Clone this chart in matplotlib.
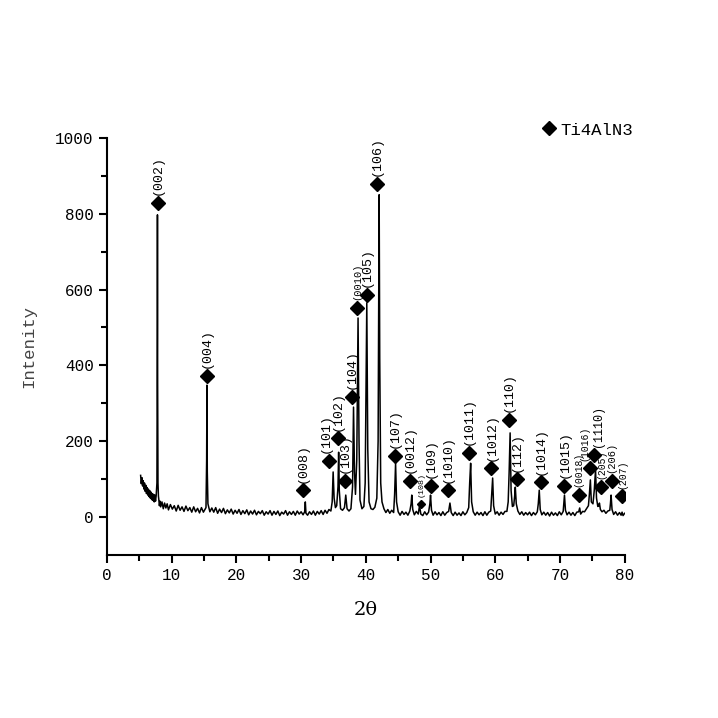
import numpy as np
import matplotlib
matplotlib.use('Agg')
import matplotlib.pyplot as plt

# XRD scan (2theta, counts)
two_theta = [
    5.2, 5.3, 5.4, 5.5, 5.6, 5.7, 5.8, 5.9, 6.0, 6.1, 6.2, 6.3, 6.4, 6.5, 6.6, 6.7, 6.8, 6.9,
    7.0, 7.1, 7.2, 7.3, 7.4, 7.5, 7.6, 7.72, 7.78, 7.8, 7.83, 7.88, 7.95,
    8.0, 8.1, 8.2, 8.3, 8.5, 8.7, 8.9, 9.1, 9.3, 9.5, 9.8, 10.1, 10.4, 10.7, 11.0, 11.3, 11.6,
    11.9, 12.2, 12.5, 12.8, 13.1, 13.4, 13.7, 14.0, 14.3, 14.6, 14.9, 15.2,
    15.3, 15.4, 15.45, 15.5, 15.6,
    15.7, 15.9, 16.2, 16.5, 16.8, 17.1, 17.4, 17.7, 18.0, 18.3, 18.6, 18.9, 19.2, 19.5, 19.8,
    20.1, 20.4, 20.7, 21.0, 21.3, 21.6, 21.9, 22.2, 22.5, 22.8, 23.1, 23.4, 23.7, 24.0, 24.3,
    24.6, 24.9, 25.2, 25.5, 25.8, 26.1, 26.4, 26.7, 27.0, 27.3, 27.6, 27.9, 28.2, 28.5, 28.8,
    29.1, 29.4, 29.7, 30.0, 30.3, 30.55, 30.65, 30.75, 31.0, 31.3, 31.6, 31.9, 32.2, 32.5,
    32.8, 33.1, 33.4, 33.7, 34.0, 34.3, 34.6, 34.8, 34.95, 35.1, 35.3, 35.5, 35.7, 35.8, 35.9,
    36.1, 36.4, 36.7, 36.9, 37.1, 37.4, 37.7, 37.95, 38.1, 38.25, 38.4, 38.6, 38.8, 38.95,
    39.1, 39.4, 39.7, 39.9, 40.05, 40.15, 40.3, 40.5, 40.8, 41.1, 41.4, 41.7, 41.9, 42.0,
    42.06, 42.15, 42.3, 42.5, 42.8, 43.1, 43.4, 43.7, 44.0, 44.3, 44.45, 44.6, 44.75, 45.0,
    45.3, 45.6, 45.9, 46.2, 46.5, 46.8, 47.0, 47.1, 47.25, 47.5, 47.8, 48.1, 48.3, 48.5, 48.8,
    49.1, 49.4, 49.7, 49.9, 50.0, 50.15, 50.4, 50.7, 51.0, 51.3, 51.6, 51.9, 52.2, 52.5, 52.8,
    53.0, 53.2, 53.5, 53.8, 54.1, 54.4, 54.7, 55.0, 55.3, 55.6, 55.9, 56.05, 56.2, 56.35, 56.6,
    56.9, 57.2, 57.5, 57.8, 58.1, 58.4, 58.7, 59.0, 59.3, 59.45, 59.6, 59.75, 60.0, 60.3, 60.6,
    60.9, 61.2, 61.5, 61.8, 62.0, 62.15, 62.3, 62.45, 62.65, 62.85, 63.0, 63.1, 63.25, 63.5,
    63.8, 64.1, 64.4, 64.7, 65.0, 65.3, 65.6, 65.9, 66.2, 66.5, 66.65, 66.8, 66.95, 67.2, 67.5,
    67.8, 68.1, 68.4, 68.7, 69.0, 69.3, 69.6, 69.9, 70.2, 70.5, 70.6, 70.7, 70.85, 71.1, 71.4,
    71.7, 72.0, 72.3, 72.6, 72.9, 73.05, 73.2, 73.5, 73.8, 74.1, 74.4, 74.55, 74.7, 74.85, 75.1,
    75.3, 75.5, 75.65, 75.85, 76.0, 76.1, 76.25, 76.5, 76.8, 77.1, 77.4, 77.7, 77.8, 77.9, 78.05,
    78.3, 78.6, 78.9, 79.2, 79.45, 79.6, 79.75, 80.0,
]
counts = [
    110, 88, 104, 82, 96, 74, 90, 68, 84, 62, 78, 58, 74, 54, 70, 50, 66, 46,
    62, 44, 60, 40, 58, 42, 56, 90, 520, 797, 350, 90, 55,
    48, 30, 42, 27, 40, 22, 37, 24, 35, 19, 33, 21, 30, 16, 31, 18, 27,
    15, 29, 17, 25, 13, 27, 14, 23, 11, 25, 13, 22,
    25, 150, 348, 120, 35,
    28, 14, 24, 13, 25, 10, 21, 12, 23, 9, 19, 11, 21, 8, 18,
    10, 20, 7, 17, 9, 19, 6, 16, 8, 18, 6, 15, 9, 17, 5,
    14, 8, 17, 5, 15, 7, 16, 4, 13, 8, 17, 5, 14, 7, 15,
    5, 16, 8, 14, 6, 14, 40, 10, 5, 14, 7, 16, 5, 15,
    8, 17, 7, 18, 10, 20, 16, 40, 119, 50, 25, 30, 80, 171, 70,
    22, 18, 25, 58, 22, 16, 22, 80, 290, 120, 60, 150, 525, 200,
    45, 22, 28, 90, 380, 565, 180, 40, 22, 20, 26, 50, 200, 600,
    850, 420, 90, 40, 22, 12, 20, 10, 18, 12, 60, 142, 40, 14,
    5, 15, 7, 13, 5, 16, 35, 58, 20, 6, 15, 8, 30, 8, 4,
    14, 6, 13, 35, 58, 18, 5, 14, 6, 12, 4, 14, 5, 12, 15,
    37, 12, 4, 13, 5, 11, 4, 14, 6, 12, 25, 90, 142, 40, 14,
    5, 13, 6, 12, 4, 14, 5, 13, 16, 60, 103, 30, 8, 14, 5,
    13, 7, 15, 15, 40, 120, 222, 70, 28, 30, 55, 79, 35, 16,
    7, 14, 5, 12, 6, 13, 4, 12, 6, 14, 35, 71, 20, 6, 13,
    5, 12, 3, 13, 5, 11, 4, 14, 6, 15, 35, 58, 18, 6, 13,
    5, 12, 4, 13, 14, 24, 8, 15, 14, 22, 30, 60, 98, 40, 35,
    70, 124, 50, 28, 30, 37, 20, 14, 18, 10, 16, 18, 35, 58, 20,
    7, 14, 5, 12, 5, 13, 4, 10,
]
assert len(two_theta) == len(counts)

# Ti4AlN3 reflections: marker position and (hkl)
mark_x = [7.9, 15.4, 30.3, 34.3, 35.7, 36.8, 37.8, 38.6, 40.2, 41.7, 44.5, 46.8, 48.5,
          50.0, 52.7, 55.9, 59.4, 62.1, 63.3, 67.1, 70.7, 72.9, 74.7, 75.2, 76.4, 78.0, 79.6]
mark_y = [828, 372, 71, 148, 208, 95, 317, 551, 586, 879, 161, 95, 34,
          82, 71, 169, 129, 256, 100, 92, 82, 58, 129, 165, 79, 95, 55]
hkl = ['(002)', '(004)', '(008)', '(101)', '(102)', '(103)', '(104)', '(0010)', '(105)',
       '(106)', '(107)', '(0012)', '(108)', '(109)', '(1010)', '(1011)', '(1012)', '(110)',
       '(112)', '(1014)', '(1015)', '(0018)', '(1016)', '(1110)', '(205)', '(206)', '(207)']

# label look: font size and sideways nudge (points)
label_size = {'(0010)': 7.5, '(108)': 6, '(0018)': 7, '(1016)': 7, '(205)': 7,
              '(206)': 7.5, '(207)': 7, '(1110)': 8.5}
label_nudge = {'(101)': -2.5, '(1016)': -4, '(1110)': 3}

mono = 'Liberation Mono'

fig = plt.figure(figsize=(7.18, 7.18), dpi=100)
ax = fig.add_axes([0.149, 0.227, 0.721, 0.581])

ax.plot(two_theta, counts, color='black', lw=1.1)

for x, y, lab in zip(mark_x, mark_y, hkl):
    ms = 4.5 if lab == '(108)' else 7
    ax.plot(x, y, 'D', color='black', ms=ms)
    ax.annotate(lab, (x, y), xytext=(label_nudge.get(lab, 0), 5.5), textcoords='offset points',
                rotation=90, ha='center', va='bottom', family=mono,
                fontsize=label_size.get(lab, 9.5))

ax.set_xlim(0, 80)
ax.set_ylim(-100, 1000)
ax.set_xticks(np.arange(0, 81, 10))
ax.set_xticks(np.arange(5, 80, 10), minor=True)
ax.set_yticks(np.arange(0, 1001, 200))
ax.set_yticks(np.arange(100, 1000, 200), minor=True)
for s in ['top', 'right']:
    ax.spines[s].set_visible(False)
for s in ['left', 'bottom']:
    ax.spines[s].set_linewidth(1.5)
ax.tick_params(which='major', direction='out', length=6, width=1.5, labelsize=11.5)
ax.tick_params(which='minor', direction='out', length=4, width=1.5)
for t in ax.get_xticklabels() + ax.get_yticklabels():
    t.set_family(mono)

ax.set_xlabel('2θ', fontsize=14, family='DejaVu Serif', labelpad=13)
ax.set_ylabel('Intenity', fontsize=12.5, family=mono, labelpad=14, color='#444444')

# legend
ax.plot([], [], 'D', color='black', ms=7, label='Ti4AlN3')
ax.legend(loc='center left', bbox_to_anchor=(0.733, 0.819), bbox_transform=fig.transFigure,
          frameon=False, handlelength=0.8, handletextpad=0.25,
          prop={'family': mono, 'size': 12.5})

fig.savefig('out.png', dpi=100, facecolor='white')
